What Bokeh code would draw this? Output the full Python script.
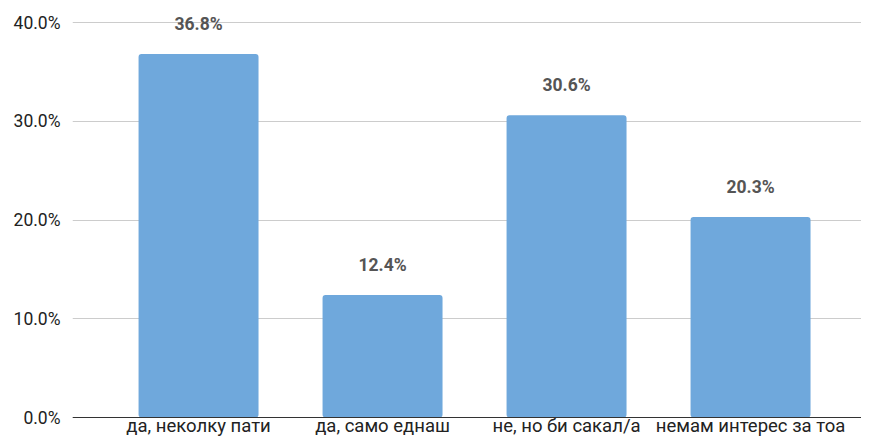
from bokeh.plotting import figure
from bokeh.models import ColumnDataSource, FixedTicker, NumeralTickFormatter, Range1d, Span
from bokeh.core.properties import value
from bokeh.embed import file_html
from bokeh.resources import INLINE

categories = ["да, неколку пати", "да, само еднаш", "не, но би сакал/а", "немам интерес за тоа"]
shares = [0.368, 0.124, 0.306, 0.203]
y_ticks = [0.0, 0.1, 0.2, 0.3, 0.4]

xs = list(range(len(categories)))
src = ColumnDataSource(dict(
    x=xs,
    top=shares,
    zero=[0.0] * len(xs),
    cat=categories,
    label=[f"{v*100:.1f}%" for v in shares],
))

p = figure(width=861, height=437, output_backend="svg", toolbar_location=None,
           x_range=Range1d(-0.685, 3.603), y_range=Range1d(-0.020253, 0.42228),
           min_border_left=72, min_border_right=0, min_border_top=0, min_border_bottom=0)
p.outline_line_color = None
p.background_fill_color = "white"
p.border_fill_color = "white"
p.xaxis.visible = False

p.vbar(x="x", top="top", width=0.652, source=src, fill_color="#6fa8dc", line_color=None,
       border_radius=3)

p.add_layout(Span(location=0, dimension="width", line_color="#333333", line_width=1))

p.text(x="x", y="top", text="label", source=src, text_align="center", text_baseline="alphabetic",
       y_offset=-30, text_font=value("Roboto"), text_font_style="bold", text_font_size="17.5px",
       text_color="#555555")

p.text(x="x", y="zero", text="cat", source=src, text_align="center", text_baseline="alphabetic",
       y_offset=8, text_font=value("Roboto"), text_font_size="18.5px", text_color="#222222")

p.yaxis.ticker = FixedTicker(ticks=y_ticks)
p.yaxis.formatter = NumeralTickFormatter(format="0.0%")
p.yaxis.major_tick_line_color = None
p.yaxis.minor_tick_line_color = None
p.yaxis.axis_line_color = None
p.yaxis.major_label_text_font = "Roboto"
p.yaxis.major_label_text_font_size = "17.5px"
p.yaxis.major_label_text_color = "#222222"
p.yaxis.major_label_standoff = 6

p.xgrid.grid_line_color = None
p.ygrid.grid_line_color = "#cccccc"
p.ygrid.grid_line_width = 1

open("out.html", "w").write(file_html(p, INLINE))
